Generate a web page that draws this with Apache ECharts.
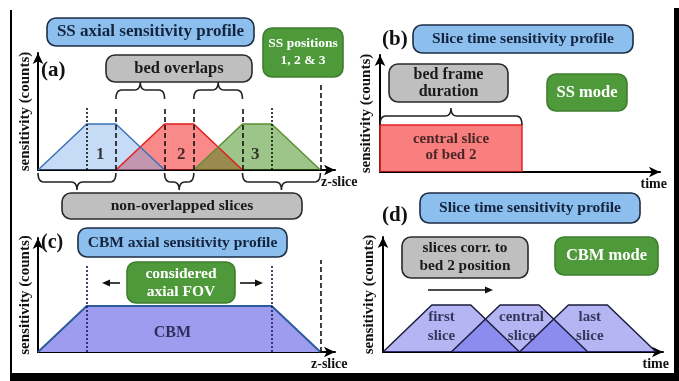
<!DOCTYPE html>
<html><head><meta charset="utf-8">
<script src="https://cdn.jsdelivr.net/npm/echarts@6/dist/echarts.min.js"></script>
<style>html,body{margin:0;padding:0;background:#fff}#c{width:679px;height:381px}</style>
</head><body><div id="c"></div>
<script>
// ---------- data ----------
// (a) step-and-shoot axial sensitivity profiles of bed positions 1, 2, 3  [z-slice, sensitivity]
const ssBed1 = [[0,0],[5,1],[8,1],[13,0]];
const ssBed2 = [[8,0],[13,1],[16,1],[21,0]];
const ssBed3 = [[16,0],[21,1],[24,1],[29,0]];
const ssBedLabels = ['1','2','3'];
const ssBedLabelPos = [[6.4,0.33],[14.7,0.33],[22.3,0.33]];
const ssDottedX = [5,24];
const ssDashedX = [8,13,16,21];
const ssFovEndX = [29];
// (b) slice time sensitivity, SS mode  [time, sensitivity]
const ssTimeRect = [[0,0],[0,1],[5,1],[5,0]];
const ssTimeLabel = ['central slice\nof bed 2'];
const ssTimeLabelPos = [[2.5,0.52]];
// (c) CBM axial sensitivity profile
const cbmProfile = [[0,0],[5,1],[24,1],[29,0]];
const cbmLabel = ['CBM'];
const cbmLabelPos = [[13.8,0.42]];
const cbmDottedX = [5,24];
const cbmFovEndX = [29];
// (d) slice time sensitivity, CBM mode
const cbmFirst = [[0,0],[5,1],[9,1],[14,0]];
const cbmCentral = [[7,0],[12,1],[16,1],[21,0]];
const cbmLast = [[14,0],[19,1],[23,1],[28,0]];
const cbmSliceLabels = ['first\nslice','central\nslice','last\nslice'];
const cbmSliceLabelPos = [[6.0,0.53],[14.2,0.53],[21.2,0.53]];
// axis names
const yName = 'sensitivity (counts)';
const xNamesAC = 'z-slice';
const xNamesBD = 'time';

// ---------- chart ----------
const F = '"Liberation Serif","DejaVu Serif","Times New Roman",serif';
const chart = echarts.init(document.getElementById('c'), null, {renderer:'canvas'});

const grids = [
  {left:38, top:53, width:297, height:117},
  {left:380, top:55, width:280, height:117},
  {left:38, top:238, width:297, height:114},
  {left:383, top:237, width:280, height:115}
];
const xMax = [30.5, 9.86, 30.5, 28.7];
const yMax = [2.54, 2.49, 2.48, 2.45];
const xNames = [xNamesAC, xNamesBD, xNamesAC, xNamesBD];
const xNameGap = [-14, 7, -24, 6];
const xNameAlign = ['left','right','left','right'];
const yGaps = [5, 6, 5, 6];

const axisLine = {show:true, symbol:['none','arrow'], symbolSize:[8,11], lineStyle:{color:'#000', width:2}};
const xAxes = grids.map((g,i)=>({
  type:'value', gridIndex:i, min:0, max:xMax[i],
  axisLine, axisTick:{show:false}, axisLabel:{show:false}, splitLine:{show:false},
  name:xNames[i], nameLocation:'end', nameGap:xNameGap[i],
  nameTextStyle:{fontFamily:F, fontWeight:'bold', fontSize:14, color:'#111', align:xNameAlign[i], verticalAlign:'top', padding:[5,0,0,0]}
}));
const yAxes = grids.map((g,i)=>({
  type:'value', gridIndex:i, min:0, max:yMax[i],
  axisLine, axisTick:{show:false}, axisLabel:{show:false}, splitLine:{show:false},
  name:yName, nameLocation:'middle', nameGap:yGaps[i], nameRotate:90,
  nameTextStyle:{fontFamily:F, fontWeight:'bold', fontSize:15, color:'#111'}
}));

function area(gi, data, stroke, fill, w){
  return {type:'line', xAxisIndex:gi, yAxisIndex:gi, data, symbol:'none', silent:true,
    lineStyle:{color:stroke, width:w||1.5}, areaStyle:{color:fill, opacity:1}};
}
function vlines(xs, h, type, color){
  return xs.map(x=>[{coord:[x,0], lineStyle:{type, color, width:1.6}},{coord:[x,h]}]);
}
function labels(gi, pos, texts, size, color, lh){
  return {type:'scatter', xAxisIndex:gi, yAxisIndex:gi, symbolSize:0, silent:true, z:5,
    data: pos.map((p,k)=>[p[0],p[1],texts[k]]),
    label:{show:true, position:'inside', formatter:p=>p.data[2], fontFamily:F, fontWeight:'bold',
      fontSize:size, color, lineHeight:lh||size+3}};
}

const series = [
  area(0, ssBed2, '#e01e1e', 'rgba(245,40,40,0.55)'),
  area(0, ssBed1, '#3a72b8', 'rgba(120,170,230,0.42)'),
  area(0, ssBed3, '#5e8e34', 'rgba(60,140,20,0.5)'),
  Object.assign(labels(0, ssBedLabelPos, ssBedLabels, 17, '#111'), {
    markLine:{silent:true, symbol:['none','none'], label:{show:false},
      data:[].concat(vlines(ssDottedX,1.35,[2,2],'#111'), vlines(ssDashedX,1.35,[5,3],'#111'), vlines(ssFovEndX,1.9,[5,3],'#111'))}
  }),
  area(1, ssTimeRect, '#e52222', 'rgba(245,40,40,0.6)'),
  labels(1, ssTimeLabelPos, ssTimeLabel, 15, '#1a1010', 16),
  area(2, cbmProfile, '#2d5c9c', '#9d9cef', 2),
  Object.assign(labels(2, cbmLabelPos, cbmLabel, 16, '#141438'), {
    markLine:{silent:true, symbol:['none','none'], label:{show:false},
      data:[].concat(vlines(cbmDottedX,1.9,[2,2],'#1a1a50'), vlines(cbmFovEndX,2.0,[5,3],'#111'))}
  }),
  area(3, cbmFirst, '#1c1c3c', 'rgba(90,90,230,0.45)'),
  area(3, cbmCentral, '#1c1c3c', 'rgba(90,90,230,0.45)'),
  area(3, cbmLast, '#1c1c3c', 'rgba(90,90,230,0.45)'),
  labels(3, cbmSliceLabelPos, cbmSliceLabels, 15, '#161636', 19)
];

chart.setOption({animation:false, backgroundColor:'#fff', grid:grids, xAxis:xAxes, yAxis:yAxes, series});

// ---------- annotations ----------
const BLUE = {fill:'#8dbfee', stroke:'#1d2d45', color:'#14243e'};
const GRAY = {fill:'#bfbfbf', stroke:'#2a2a2a', color:'#1a1a1a'};
const GREEN = {fill:'#4e9a3a', stroke:'#3f7d2e', color:'#ffffff'};
function box(x,y,w,h,c,text,size,lh){
  return {type:'rect', shape:{x,y,width:w,height:h,r:9}, z:10,
    style:{fill:c.fill, stroke:c.stroke, lineWidth:1.6},
    textContent:{z:11, style:{text, fill:c.color, font:'bold '+size+'px '+F, align:'center', verticalAlign:'middle', lineHeight:lh||size+2}},
    textConfig:{position:'inside'}};
}
function txt(x,y,text,size){
  return {type:'text', x, y, z:10, style:{text, font:'bold '+size+'px '+F, fill:'#111', verticalAlign:'middle'}};
}
function qpts(p0,c,p1,n){
  const out=[];
  for(let i=1;i<=n;i++){const t=i/n, u=1-t;
    out.push([u*u*p0[0]+2*u*t*c[0]+t*t*p1[0], u*u*p0[1]+2*u*t*c[1]+t*t*p1[1]]);}
  return out;
}
function brace(xa,xb,y,dir){ // dir -1: tip up, +1: tip down
  const r=6, d=9, t=8, m=(xa+xb)/2;
  let pts=[[xa, y-dir*d]];
  pts=pts.concat(qpts([xa,y-dir*d],[xa,y],[xa+r,y],6));
  pts.push([m-r,y]);
  pts=pts.concat(qpts([m-r,y],[m,y],[m,y+dir*t],6));
  pts=pts.concat(qpts([m,y+dir*t],[m,y],[m+r,y],6));
  pts.push([xb-r,y]);
  pts=pts.concat(qpts([xb-r,y],[xb,y],[xb,y-dir*d],6));
  return {type:'polyline', shape:{points:pts}, z:10, style:{stroke:'#222', lineWidth:1.6, fill:null}};
}
function arrow(x1,y,x2){
  const s = x2>x1?1:-1;
  return [{type:'line', shape:{x1, y1:y, x2:x2-s*6, y2:y}, z:10, style:{stroke:'#111', lineWidth:1.6}},
          {type:'polygon', shape:{points:[[x2,y],[x2-s*8,y-3.5],[x2-s*8,y+3.5]]}, z:10, style:{fill:'#111'}}];
}
const P = (gi,x,y)=>chart.convertToPixel({gridIndex:gi},[x,y]);

const g = [];
// frame
g.push({type:'rect', shape:{x:10,y:10,width:2,height:365}, style:{fill:'#000'}, z:20});
g.push({type:'rect', shape:{x:674,y:8,width:5,height:373}, style:{fill:'#000'}, z:20});
g.push({type:'rect', shape:{x:10,y:373,width:669,height:8}, style:{fill:'#000'}, z:20});
// panel (a)
const a0 = P(0,0,0)[1];
g.push(brace(P(0,8,0)[0], P(0,13,0)[0], a0-80, -1));
g.push(brace(P(0,16,0)[0], P(0,21,0)[0], a0-80, -1));
g.push(brace(P(0,0,0)[0], P(0,8,0)[0], a0+12, 1));
g.push(brace(P(0,13,0)[0], P(0,16,0)[0], a0+12, 1));
g.push(brace(P(0,21,0)[0], P(0,29,0)[0], a0+12, 1));
g.push(box(47,18,207,28,BLUE,'SS axial sensitivity profile',17));
g.push(box(106,55,146,27,GRAY,'bed overlaps',16.5));
g.push(box(263,28,80,49,GREEN,'SS positions\n1, 2 & 3',13.5,17));
g.push(box(62,193,240,26,GRAY,'non-overlapped slices',15.5));
g.push(txt(41,71,'(a)',21));
// panel (b)
const b1 = P(1,0,1)[1];
g.push(brace(P(1,0,0)[0], P(1,5,0)[0], b1-9, -1));
g.push(box(413,25,220,28,BLUE,'Slice time sensitivity profile',15.5));
g.push(box(389,64,119,38,GRAY,'bed frame\nduration',16,17));
g.push(box(547,74,80,37,GREEN,'SS mode',16.5));
g.push(txt(382,40,'(b)',21));
// panel (c)
g.push(box(78,228,209,29,BLUE,'CBM axial sensitivity profile',15.5));
g.push(box(127,262,108,41,GREEN,'considered\naxial FOV',15.5,18));
arrow(120,283,102).forEach(e=>g.push(e));
arrow(240,283,263).forEach(e=>g.push(e));
g.push(txt(41,243,'(c)',20));
// panel (d)
g.push(box(420,193,220,30,BLUE,'Slice time sensitivity profile',15.5));
g.push(box(402,237,126,41,GRAY,'slices corr. to\nbed 2 position',15.3,18));
g.push(box(555,237,103,38,GREEN,'CBM mode',16.5));
arrow(428,290,493).forEach(e=>g.push(e));
g.push(txt(382,216,'(d)',21));

chart.setOption({graphic:{elements:g}});
</script></body></html>
